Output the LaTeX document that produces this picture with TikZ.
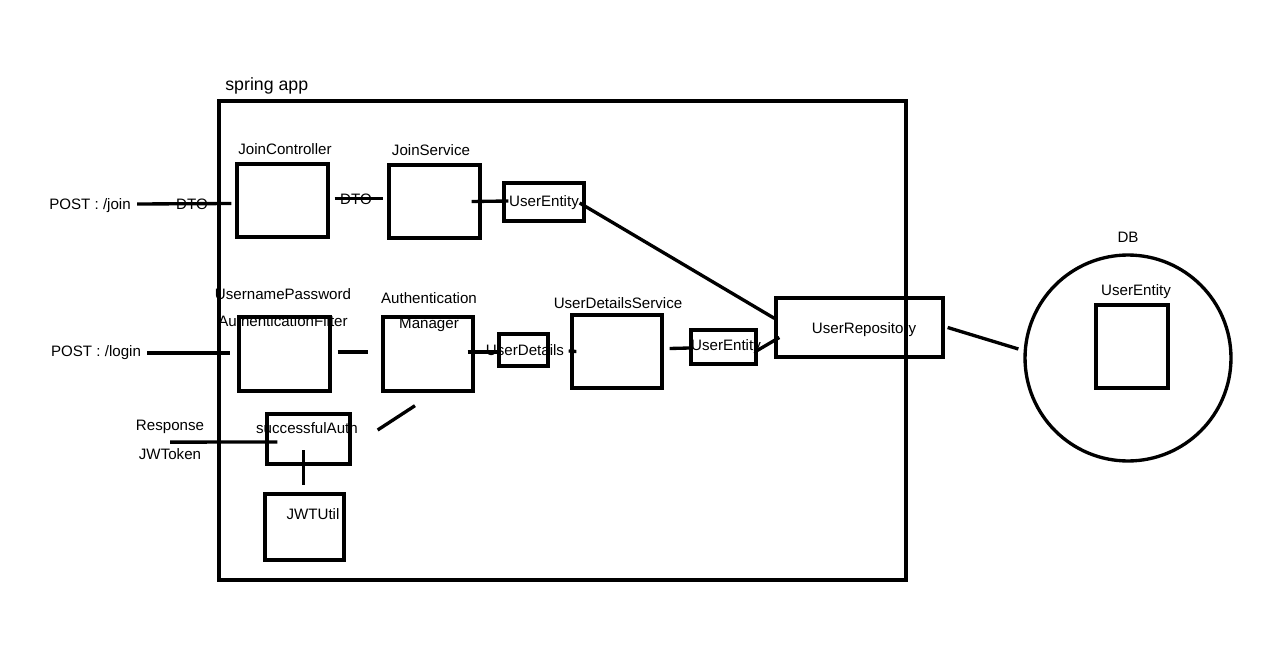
\documentclass[tikz,border=0pt]{standalone}
\usepackage{fontspec}
\setmainfont{Liberation Sans}
\usepackage{tikz}
\usetikzlibrary{calc,positioning}

\begin{document}
\begin{tikzpicture}[
  x=0.02cm, y=-0.02cm,
  box/.style={draw, line width=1.9pt, inner sep=0pt, font=\fontsize{8.6}{10}\selectfont},
  lbl/.style={inner sep=0pt, font=\fontsize{8.6}{10}\selectfont},
  conn/.style={line width=1.9pt}
]
\useasboundingbox (0,0) rectangle (1280,645);
% spring app frame
\node[box, minimum width=13.74cm, minimum height=9.58cm] (app) at (562.5,340.5) {};
\node[lbl, anchor=west, font=\fontsize{10.1}{12}\selectfont] (applbl) at (225,86) {spring app};
% join row
\node[box, minimum width=1.82cm, minimum height=1.46cm] (jc) at (282.5,200.5) {};
\node[lbl] (jclbl) at (285,149) {JoinController};
\node[box, minimum width=1.82cm, minimum height=1.46cm] (js) at (434.5,201.5) {};
\node[lbl] (jslbl) at (431,150) {JoinService};
\node[box, minimum width=1.6cm, minimum height=0.76cm] (ue1) at (544,202) {};
\node[lbl] (ue1lbl) at (544,203) {UserEntity};
\node[lbl] (join) at (90,206) {POST : /join};
\node[lbl] (dto1) at (192,204) {DTO};
\node[lbl] (dto2) at (356,199) {DTO};
% login row
\node[box, minimum width=1.82cm, minimum height=1.48cm] (filter) at (284.5,354) {};
\node[lbl] (flbl1) at (283,294) {UsernamePassword};
\node[lbl] (flbl2) at (283,321) {AuthenticationFilter};
\node[box, minimum width=1.8cm, minimum height=1.48cm] (mgr) at (428,354) {};
\node[lbl] (mlbl1) at (429,298) {Authentication};
\node[lbl] (mlbl2) at (429,325) {Manager};
\node[box, minimum width=0.98cm, minimum height=0.64cm] (ud) at (523.5,350) {};
\node[lbl] (udlbl) at (525,350) {UserDetails};
\node[box, minimum width=1.8cm, minimum height=1.46cm] (uds) at (617,351.5) {};
\node[lbl] (udslbl) at (618,303) {UserDetailsService};
\node[box, minimum width=1.3cm, minimum height=0.68cm] (ue2) at (723.5,347) {};
\node[lbl] (ue2lbl) at (726,347) {UserEntity};
\node[lbl] (login) at (96,353) {POST : /login};
\node[box, minimum width=3.34cm, minimum height=1.18cm] (repo) at (859.5,327.5) {};
\node[lbl] (repolbl) at (864,330) {UserRepository};
% response
\node[box, minimum width=1.66cm, minimum height=1cm] (succ) at (308.5,439) {};
\node[lbl] (succlbl) at (307,428) {successfulAuth};
\node[lbl] (resp) at (170,427) {Response};
\node[lbl] (tok) at (170,454) {JWToken};
\node[box, minimum width=1.58cm, minimum height=1.32cm] (jwt) at (304.5,527) {};
\node[lbl] (jwtlbl) at (313,514) {JWTUtil};
% DB
\node[box, circle, minimum size=4.12cm] (db) at (1128,358) {};
\node[lbl] (dblbl) at (1128,237) {DB};
\node[box, minimum width=1.44cm, minimum height=1.66cm] (dbe) at (1132,346.5) {};
\node[lbl] (dbelbl) at (1136,292) {UserEntity};
% connectors
\draw[conn] ($(join.east)+(6,-2)$) -- ($(jc.west)+(-4,3)$);
\draw[conn] ($(jc.east)+(5,-2)$) -- ($(js.west)+(-4,-3)$);
\draw[conn] ($(js.east)+(-10,0)$) -- ($(ue1.west)+(6,-1)$);
\draw[conn] ($(ue1.east)+(-6,1)$) -- ($(repo.north west)+(0,22)$);
\draw[conn] ($(repo.east)+(3,0)$) -- ($(db.west)+(-5,-9)$);
\draw[conn] ($(login.east)+(6,0)$) -- ($(filter.west)+(-7,-1)$);
\draw[conn] ($(filter.east)+(6,-2)$) -- ($(mgr.west)+(-13,-2)$);
\draw[conn] ($(mgr.east)+(-7,-2)$) -- ($(ud.west)+(1,2)$);
\draw[conn] ($(ud.east)+(19,1)$) -- ($(uds.west)+(6,0)$);
\draw[conn] ($(uds.east)+(6,-3)$) -- ($(ue2.west)+(0,1)$);
\draw[conn] ($(ue2.east)+(-3,5)$) -- ($(repo.west)+(5,10)$);
\draw[conn] ($(mgr.south)+(-13,13)$) -- ($(succ.east)+(26,-9)$);
\draw[conn] ($(resp.south)+(0,8)$) -- ($(succ.west)+(12,3)$);
\draw[conn] ($(succ.center)+(-5,11)$) -- ($(jwt.north)+(-1,-7)$);
\end{tikzpicture}
\end{document}
